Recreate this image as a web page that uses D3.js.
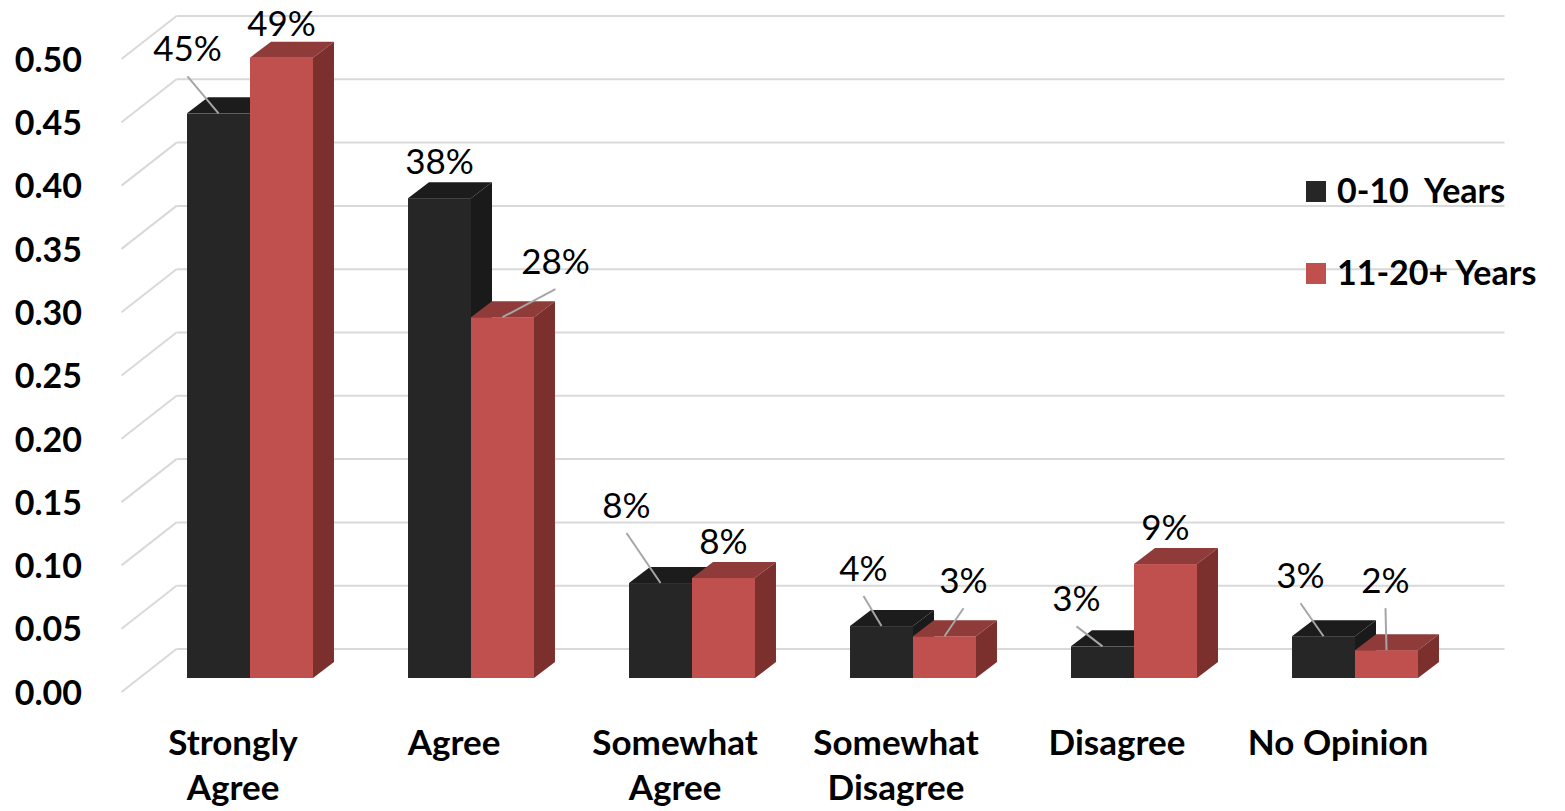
<!DOCTYPE html>
<html>
<head>
<meta charset="utf-8">
<script src="https://cdn.jsdelivr.net/npm/d3@7"></script>
<style>
  html, body { margin: 0; padding: 0; background: #fff; }
  svg { display: block; }
</style>
</head>
<body>
<svg id="chart" width="1565" height="811"></svg>
<script>
// ---------- data ----------
const categories = [["Strongly", "Agree"], ["Agree"], ["Somewhat", "Agree"], ["Somewhat", "Disagree"], ["Disagree"], ["No Opinion"]];
const seriesNames = ["0-10  Years", "11-20+ Years"];
const series0 = [0.446, 0.379, 0.075, 0.041, 0.025, 0.033];
const series1 = [0.490, 0.285, 0.079, 0.033, 0.090, 0.022];
const yTicks = [0, 0.05, 0.10, 0.15, 0.20, 0.25, 0.30, 0.35, 0.40, 0.45, 0.50];

// ---------- layout (label nudges from default spot, in px; leader flags) ----------
const nudge0 = [[-31, -28], [0, 0], [-34, -41], [-18, -21], [-26, -11], [-23, -24]];
const nudge1 = [[0, 3], [53, -19], [0, 0], [19, -19], [0, 0], [-1, -33]];
const leader0 = [true, false, true, true, true, true];
const leader1 = [false, true, false, true, false, true];

const colors = {
  front: ["#262626", "#c0504d"],
  top:   ["#1c1c1c", "#8f3b39"],
  side:  ["#1a1a1a", "#7b302e"]
};

const svg = d3.select("#chart");
const FONT = "Lato, 'Open Sans', 'DejaVu Sans', sans-serif";

// bar (middle) plane scales
const catIdx = d3.range(categories.length);
const x = d3.scaleBand().domain(catIdx).range([139.5, 1465.5]).paddingInner(0.43).paddingOuter(0.215);
const xs = d3.scaleBand().domain([0, 1]).range([0, x.bandwidth()]);
const y = d3.scaleLinear().domain([0, 0.5]).range([678, 678 - 633]);

// depth offsets relative to bar front plane
const FRONT = { dx: -18, dy: 14 };
const BACK  = { dx: 37, dy: -29 };
const BAR   = { dx: 21, dy: 16 };

// ---------- gridlines ----------
const grid = svg.append("g").attr("stroke", "#d9d9d9").attr("stroke-width", 2).attr("fill", "none");
const [r0, r1] = x.range();
yTicks.forEach(t => {
  const yb = y(t) + BACK.dy, yf = y(t) + FRONT.dy;
  grid.append("line").attr("x1", r0 + FRONT.dx).attr("y1", yf).attr("x2", r0 + BACK.dx).attr("y2", yb);
  grid.append("line").attr("x1", r0 + BACK.dx).attr("y1", yb).attr("x2", r1 + BACK.dx + 2).attr("y2", yb);
});

// ---------- y axis labels ----------
const yAxis = d3.axisLeft(d3.scaleLinear().domain(y.domain()).range(y.range().map(v => v + FRONT.dy)))
  .tickValues(yTicks).tickFormat(d3.format(".2f")).tickSize(0).tickPadding(0);
const ya = svg.append("g").attr("transform", "translate(82,0)").call(yAxis);
ya.select(".domain").remove();
ya.selectAll("text").attr("font-family", FONT).attr("font-weight", "bold").attr("font-size", 34)
  .attr("fill", "#000").attr("dy", "0.36em");

// ---------- bars ----------
const bars = svg.append("g");
const allSeries = [series0, series1];
catIdx.forEach(i => {
  [0, 1].forEach(s => {
    const v = allSeries[s][i];
    const bx = x(i) + xs(s), bw = xs.bandwidth();
    const yt = y(v), yb = y(0);
    const g = bars.append("g");
    g.append("rect").attr("x", bx).attr("y", yt).attr("width", bw).attr("height", yb - yt)
      .attr("fill", colors.front[s]);
    g.append("polygon").attr("fill", colors.top[s]).attr("points", [
      [bx, yt], [bx + BAR.dx, yt - BAR.dy], [bx + bw + BAR.dx, yt - BAR.dy], [bx + bw, yt]
    ].map(p => p.join(",")).join(" "));
    g.append("polygon").attr("fill", colors.side[s]).attr("points", [
      [bx + bw, yt], [bx + bw + BAR.dx, yt - BAR.dy], [bx + bw + BAR.dx, yb - BAR.dy], [bx + bw, yb]
    ].map(p => p.join(",")).join(" "));
  });
});

// ---------- data labels ----------
const labels = svg.append("g");
const pct = d3.format(".0%");
const nudges = [nudge0, nudge1];
const leaders = [leader0, leader1];
catIdx.forEach(i => {
  [0, 1].forEach(s => {
    const v = allSeries[s][i];
    const cx = x(i) + xs(s) + xs.bandwidth() / 2;
    const top = y(v);
    const [ndx, ndy] = nudges[s][i];
    const lx = cx + ndx, ly = top - 37 + ndy;
    if (leaders[s][i]) {
      labels.append("line").attr("x1", lx).attr("y1", ly + 28).attr("x2", cx).attr("y2", top)
        .attr("stroke", "#a6a6a6").attr("stroke-width", 2);
    }
    labels.append("text").attr("x", lx).attr("y", ly).attr("dy", "0.36em")
      .attr("text-anchor", "middle").attr("font-family", FONT).attr("font-size", 35)
      .attr("fill", "#000").text(pct(v));
  });
});

// ---------- category labels ----------
const cats = svg.append("g");
catIdx.forEach(i => {
  const cx = x(i) + x.bandwidth() / 2 + FRONT.dx + 1;
  const t = cats.append("text").attr("text-anchor", "middle").attr("font-family", FONT)
    .attr("font-weight", "bold").attr("font-size", 35).attr("fill", "#000");
  categories[i].forEach((line, k) => {
    t.append("tspan").attr("x", cx).attr("y", 755 + k * 45).text(line);
  });
});

// ---------- legend ----------
const legend = svg.append("g");
seriesNames.forEach((name, s) => {
  const ly = 181 + s * 82;
  legend.append("rect").attr("x", 1306).attr("y", ly).attr("width", 20).attr("height", 21)
    .attr("fill", colors.front[s]);
  legend.append("text").attr("x", 1337).attr("y", ly + 22).attr("font-family", FONT)
    .attr("font-weight", "bold").attr("font-size", 34).attr("fill", "#000")
    .attr("xml:space", "preserve").style("white-space", "pre").text(name);
});
</script>
</body>
</html>
